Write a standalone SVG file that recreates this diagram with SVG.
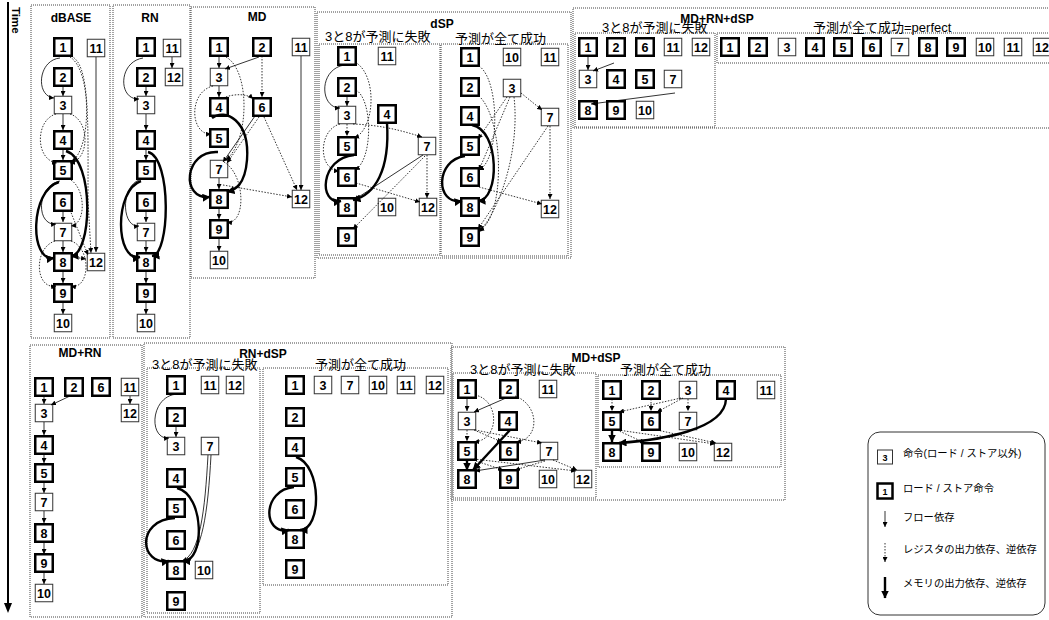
<svg xmlns="http://www.w3.org/2000/svg" width="1049" height="620" viewBox="0 0 1049 620">
<defs>
<style>
.k{fill:#fff;stroke:#000;stroke-width:2.5}
.t{fill:#fff;stroke:#333;stroke-width:1}
.n{font-family:"Liberation Sans",Arial,sans-serif;font-weight:bold;font-size:12.5px;text-anchor:middle;fill:#000}
.pn{fill:none;stroke:#444;stroke-width:1;stroke-dasharray:1 1}
.ti{font-family:"Liberation Sans",Arial,sans-serif;font-weight:bold;font-size:12px;text-anchor:middle;fill:#000}
.jp{font-family:"Liberation Sans","Noto Sans CJK JP",sans-serif;font-size:13px;fill:#000}
.lg{font-family:"Liberation Sans","Noto Sans CJK JP",sans-serif;font-size:10.3px;fill:#000}
.s{fill:none;stroke:#000;stroke-width:0.8;marker-end:url(#ms)}
.d{fill:none;stroke:#000;stroke-width:0.8;stroke-dasharray:1.5 1.5;marker-end:url(#ms)}
.h{fill:none;stroke:#000;stroke-width:2.4;marker-end:url(#mk)}
</style>
<marker id="ms" markerUnits="userSpaceOnUse" markerWidth="5" markerHeight="5" refX="5" refY="2.5" orient="auto" viewBox="0 0 5 5"><path d="M0,0 L5,2.5 L0,5 z" fill="#000"/></marker>
<marker id="mk" markerUnits="userSpaceOnUse" markerWidth="8" markerHeight="8" refX="7.5" refY="4" orient="auto" viewBox="0 0 8 8"><path d="M0,0 L8,4 L0,8 z" fill="#000"/></marker>
</defs>
<rect width="1049" height="620" fill="#fff"/>

<g id="time-axis">
<line x1="8" y1="2" x2="8" y2="604" stroke="#000" stroke-width="2"/>
<path d="M4,603 L12,603 L8,613 z" fill="#000"/>
<text class="ti" style="text-anchor:start;font-size:11.5px" transform="translate(12 7) rotate(90)">Time</text>
</g>

<g id="panels">
<rect class="pn" x="31" y="5" width="79" height="333"/>
<rect class="pn" x="113" y="5" width="77" height="333"/>
<rect class="pn" x="191" y="7" width="124" height="271"/>
<rect class="pn" x="317" y="12" width="254" height="246"/>
<rect class="pn" x="319" y="44" width="121" height="211"/>
<rect class="pn" x="441" y="44" width="127" height="212"/>
<rect class="pn" x="573" y="8" width="480" height="120"/>
<rect class="pn" x="575" y="33" width="140" height="94"/>
<rect class="pn" x="717" y="33" width="340" height="30"/>
<rect class="pn" x="30" y="345" width="112" height="272"/>
<rect class="pn" x="144" y="343" width="308" height="274"/>
<rect class="pn" x="147" y="368" width="113" height="245"/>
<rect class="pn" x="263" y="368" width="185" height="217"/>
<rect class="pn" x="451" y="347" width="334" height="153"/>
<rect class="pn" x="453" y="373" width="143" height="125"/>
<rect class="pn" x="598" y="375" width="183" height="92"/>
<text class="ti" x="71" y="22">dBASE</text>
<text class="ti" x="150" y="22">RN</text>
<text class="ti" x="257" y="21">MD</text>
<text class="ti" x="442" y="28">dSP</text>
<text class="ti" x="717" y="23">MD+RN+dSP</text>
<text class="ti" x="80" y="357">MD+RN</text>
<text class="ti" x="263" y="358">RN+dSP</text>
<text class="ti" x="596" y="362">MD+dSP</text>
<text class="jp" x="325" y="41">3と8が予測に失敗</text>
<text class="jp" x="455" y="43">予測が全て成功</text>
<text class="jp" x="602" y="32">3と8が予測に失敗</text>
<text class="jp" x="813" y="32">予測が全て成功=perfect</text>
<text class="jp" x="152" y="369">3と8が予測に失敗</text>
<text class="jp" x="315" y="369">予測が全て成功</text>
<text class="jp" x="470" y="374">3と8が予測に失敗</text>
<text class="jp" x="620" y="374">予測が全て成功</text>
</g>

<g id="nodes">
<!-- dBASE -->
<g id="dbase-1" transform="translate(63 47)"><rect class="k" x="-8.75" y="-8.75" width="17.5" height="17.5"/><text class="n" y="4.5">1</text></g>
<g id="dbase-2" transform="translate(63 77)"><rect class="k" x="-8.75" y="-8.75" width="17.5" height="17.5"/><text class="n" y="4.5">2</text></g>
<g id="dbase-3" transform="translate(63 105)"><rect class="t" x="-8.75" y="-8.75" width="17.5" height="17.5"/><text class="n" y="4.5">3</text></g>
<g id="dbase-4" transform="translate(63 140)"><rect class="k" x="-8.75" y="-8.75" width="17.5" height="17.5"/><text class="n" y="4.5">4</text></g>
<g id="dbase-5" transform="translate(63 170)"><rect class="k" x="-8.75" y="-8.75" width="17.5" height="17.5"/><text class="n" y="4.5">5</text></g>
<g id="dbase-6" transform="translate(63 202)"><rect class="k" x="-8.75" y="-8.75" width="17.5" height="17.5"/><text class="n" y="4.5">6</text></g>
<g id="dbase-7" transform="translate(63 232)"><rect class="t" x="-8.75" y="-8.75" width="17.5" height="17.5"/><text class="n" y="4.5">7</text></g>
<g id="dbase-8" transform="translate(63 262)"><rect class="k" x="-8.75" y="-8.75" width="17.5" height="17.5"/><text class="n" y="4.5">8</text></g>
<g id="dbase-9" transform="translate(63 293)"><rect class="k" x="-8.75" y="-8.75" width="17.5" height="17.5"/><text class="n" y="4.5">9</text></g>
<g id="dbase-10" transform="translate(63 323)"><rect class="t" x="-8.75" y="-8.75" width="17.5" height="17.5"/><text class="n" y="4.5">10</text></g>
<g id="dbase-11" transform="translate(96 48)"><rect class="t" x="-8.75" y="-8.75" width="17.5" height="17.5"/><text class="n" y="4.5">11</text></g>
<g id="dbase-12" transform="translate(96 262)"><rect class="t" x="-8.75" y="-8.75" width="17.5" height="17.5"/><text class="n" y="4.5">12</text></g>
<!-- RN -->
<g id="rn-1" transform="translate(146 47)"><rect class="k" x="-8.75" y="-8.75" width="17.5" height="17.5"/><text class="n" y="4.5">1</text></g>
<g id="rn-2" transform="translate(146 77)"><rect class="k" x="-8.75" y="-8.75" width="17.5" height="17.5"/><text class="n" y="4.5">2</text></g>
<g id="rn-3" transform="translate(146 105)"><rect class="t" x="-8.75" y="-8.75" width="17.5" height="17.5"/><text class="n" y="4.5">3</text></g>
<g id="rn-4" transform="translate(146 140)"><rect class="k" x="-8.75" y="-8.75" width="17.5" height="17.5"/><text class="n" y="4.5">4</text></g>
<g id="rn-5" transform="translate(146 170)"><rect class="k" x="-8.75" y="-8.75" width="17.5" height="17.5"/><text class="n" y="4.5">5</text></g>
<g id="rn-6" transform="translate(146 202)"><rect class="k" x="-8.75" y="-8.75" width="17.5" height="17.5"/><text class="n" y="4.5">6</text></g>
<g id="rn-7" transform="translate(146 232)"><rect class="t" x="-8.75" y="-8.75" width="17.5" height="17.5"/><text class="n" y="4.5">7</text></g>
<g id="rn-8" transform="translate(146 262)"><rect class="k" x="-8.75" y="-8.75" width="17.5" height="17.5"/><text class="n" y="4.5">8</text></g>
<g id="rn-9" transform="translate(146 293)"><rect class="k" x="-8.75" y="-8.75" width="17.5" height="17.5"/><text class="n" y="4.5">9</text></g>
<g id="rn-10" transform="translate(146 323)"><rect class="t" x="-8.75" y="-8.75" width="17.5" height="17.5"/><text class="n" y="4.5">10</text></g>
<g id="rn-11" transform="translate(172 48)"><rect class="t" x="-8.75" y="-8.75" width="17.5" height="17.5"/><text class="n" y="4.5">11</text></g>
<g id="rn-12" transform="translate(174 77)"><rect class="t" x="-8.75" y="-8.75" width="17.5" height="17.5"/><text class="n" y="4.5">12</text></g>
<!-- MD -->
<g id="md-1" transform="translate(219 47)"><rect class="k" x="-8.75" y="-8.75" width="17.5" height="17.5"/><text class="n" y="4.5">1</text></g>
<g id="md-2" transform="translate(262 47)"><rect class="k" x="-8.75" y="-8.75" width="17.5" height="17.5"/><text class="n" y="4.5">2</text></g>
<g id="md-11" transform="translate(301 47)"><rect class="t" x="-8.75" y="-8.75" width="17.5" height="17.5"/><text class="n" y="4.5">11</text></g>
<g id="md-3" transform="translate(219 77)"><rect class="t" x="-8.75" y="-8.75" width="17.5" height="17.5"/><text class="n" y="4.5">3</text></g>
<g id="md-4" transform="translate(219 107)"><rect class="k" x="-8.75" y="-8.75" width="17.5" height="17.5"/><text class="n" y="4.5">4</text></g>
<g id="md-6" transform="translate(262 107)"><rect class="k" x="-8.75" y="-8.75" width="17.5" height="17.5"/><text class="n" y="4.5">6</text></g>
<g id="md-5" transform="translate(219 138)"><rect class="k" x="-8.75" y="-8.75" width="17.5" height="17.5"/><text class="n" y="4.5">5</text></g>
<g id="md-7" transform="translate(219 169)"><rect class="t" x="-8.75" y="-8.75" width="17.5" height="17.5"/><text class="n" y="4.5">7</text></g>
<g id="md-8" transform="translate(219 199)"><rect class="k" x="-8.75" y="-8.75" width="17.5" height="17.5"/><text class="n" y="4.5">8</text></g>
<g id="md-12" transform="translate(301 199)"><rect class="t" x="-8.75" y="-8.75" width="17.5" height="17.5"/><text class="n" y="4.5">12</text></g>
<g id="md-9" transform="translate(219 229)"><rect class="k" x="-8.75" y="-8.75" width="17.5" height="17.5"/><text class="n" y="4.5">9</text></g>
<g id="md-10" transform="translate(219 260)"><rect class="t" x="-8.75" y="-8.75" width="17.5" height="17.5"/><text class="n" y="4.5">10</text></g>
<!-- dSP fail -->
<g id="dspF-1" transform="translate(347 56)"><rect class="k" x="-8.75" y="-8.75" width="17.5" height="17.5"/><text class="n" y="4.5">1</text></g>
<g id="dspF-11" transform="translate(387 56)"><rect class="t" x="-8.75" y="-8.75" width="17.5" height="17.5"/><text class="n" y="4.5">11</text></g>
<g id="dspF-2" transform="translate(347 87)"><rect class="k" x="-8.75" y="-8.75" width="17.5" height="17.5"/><text class="n" y="4.5">2</text></g>
<g id="dspF-3" transform="translate(347 115)"><rect class="t" x="-8.75" y="-8.75" width="17.5" height="17.5"/><text class="n" y="4.5">3</text></g>
<g id="dspF-4" transform="translate(387 114)"><rect class="k" x="-8.75" y="-8.75" width="17.5" height="17.5"/><text class="n" y="4.5">4</text></g>
<g id="dspF-5" transform="translate(347 146)"><rect class="k" x="-8.75" y="-8.75" width="17.5" height="17.5"/><text class="n" y="4.5">5</text></g>
<g id="dspF-7" transform="translate(427 146)"><rect class="t" x="-8.75" y="-8.75" width="17.5" height="17.5"/><text class="n" y="4.5">7</text></g>
<g id="dspF-6" transform="translate(347 177)"><rect class="k" x="-8.75" y="-8.75" width="17.5" height="17.5"/><text class="n" y="4.5">6</text></g>
<g id="dspF-8" transform="translate(347 207)"><rect class="k" x="-8.75" y="-8.75" width="17.5" height="17.5"/><text class="n" y="4.5">8</text></g>
<g id="dspF-10" transform="translate(387 207)"><rect class="t" x="-8.75" y="-8.75" width="17.5" height="17.5"/><text class="n" y="4.5">10</text></g>
<g id="dspF-12" transform="translate(428 207)"><rect class="t" x="-8.75" y="-8.75" width="17.5" height="17.5"/><text class="n" y="4.5">12</text></g>
<g id="dspF-9" transform="translate(347 237)"><rect class="k" x="-8.75" y="-8.75" width="17.5" height="17.5"/><text class="n" y="4.5">9</text></g>
<!-- dSP success -->
<g id="dspS-1" transform="translate(470 57)"><rect class="k" x="-8.75" y="-8.75" width="17.5" height="17.5"/><text class="n" y="4.5">1</text></g>
<g id="dspS-10" transform="translate(512 57)"><rect class="t" x="-8.75" y="-8.75" width="17.5" height="17.5"/><text class="n" y="4.5">10</text></g>
<g id="dspS-11" transform="translate(550 57)"><rect class="t" x="-8.75" y="-8.75" width="17.5" height="17.5"/><text class="n" y="4.5">11</text></g>
<g id="dspS-2" transform="translate(470 87)"><rect class="k" x="-8.75" y="-8.75" width="17.5" height="17.5"/><text class="n" y="4.5">2</text></g>
<g id="dspS-3" transform="translate(512 88)"><rect class="t" x="-8.75" y="-8.75" width="17.5" height="17.5"/><text class="n" y="4.5">3</text></g>
<g id="dspS-4" transform="translate(470 116)"><rect class="k" x="-8.75" y="-8.75" width="17.5" height="17.5"/><text class="n" y="4.5">4</text></g>
<g id="dspS-7" transform="translate(550 117)"><rect class="t" x="-8.75" y="-8.75" width="17.5" height="17.5"/><text class="n" y="4.5">7</text></g>
<g id="dspS-5" transform="translate(470 146)"><rect class="k" x="-8.75" y="-8.75" width="17.5" height="17.5"/><text class="n" y="4.5">5</text></g>
<g id="dspS-6" transform="translate(470 177)"><rect class="k" x="-8.75" y="-8.75" width="17.5" height="17.5"/><text class="n" y="4.5">6</text></g>
<g id="dspS-8" transform="translate(470 207)"><rect class="k" x="-8.75" y="-8.75" width="17.5" height="17.5"/><text class="n" y="4.5">8</text></g>
<g id="dspS-12" transform="translate(550 209)"><rect class="t" x="-8.75" y="-8.75" width="17.5" height="17.5"/><text class="n" y="4.5">12</text></g>
<g id="dspS-9" transform="translate(470 237)"><rect class="k" x="-8.75" y="-8.75" width="17.5" height="17.5"/><text class="n" y="4.5">9</text></g>
<!-- MD+RN+dSP fail -->
<g id="mrdF-1" transform="translate(588 47)"><rect class="k" x="-8.75" y="-8.75" width="17.5" height="17.5"/><text class="n" y="4.5">1</text></g>
<g id="mrdF-2" transform="translate(616 47)"><rect class="k" x="-8.75" y="-8.75" width="17.5" height="17.5"/><text class="n" y="4.5">2</text></g>
<g id="mrdF-6" transform="translate(645 47)"><rect class="k" x="-8.75" y="-8.75" width="17.5" height="17.5"/><text class="n" y="4.5">6</text></g>
<g id="mrdF-11" transform="translate(673 47)"><rect class="t" x="-8.75" y="-8.75" width="17.5" height="17.5"/><text class="n" y="4.5">11</text></g>
<g id="mrdF-12" transform="translate(701 47)"><rect class="t" x="-8.75" y="-8.75" width="17.5" height="17.5"/><text class="n" y="4.5">12</text></g>
<g id="mrdF-3" transform="translate(588 79)"><rect class="t" x="-8.75" y="-8.75" width="17.5" height="17.5"/><text class="n" y="4.5">3</text></g>
<g id="mrdF-4" transform="translate(616 79)"><rect class="k" x="-8.75" y="-8.75" width="17.5" height="17.5"/><text class="n" y="4.5">4</text></g>
<g id="mrdF-5" transform="translate(645 79)"><rect class="k" x="-8.75" y="-8.75" width="17.5" height="17.5"/><text class="n" y="4.5">5</text></g>
<g id="mrdF-7" transform="translate(673 79)"><rect class="t" x="-8.75" y="-8.75" width="17.5" height="17.5"/><text class="n" y="4.5">7</text></g>
<g id="mrdF-8" transform="translate(588 110)"><rect class="k" x="-8.75" y="-8.75" width="17.5" height="17.5"/><text class="n" y="4.5">8</text></g>
<g id="mrdF-9" transform="translate(616 110)"><rect class="k" x="-8.75" y="-8.75" width="17.5" height="17.5"/><text class="n" y="4.5">9</text></g>
<g id="mrdF-10" transform="translate(645 110)"><rect class="t" x="-8.75" y="-8.75" width="17.5" height="17.5"/><text class="n" y="4.5">10</text></g>
<!-- MD+RN+dSP perfect -->
<g id="mrdS-1" transform="translate(730 47)"><rect class="k" x="-8.75" y="-8.75" width="17.5" height="17.5"/><text class="n" y="4.5">1</text></g>
<g id="mrdS-2" transform="translate(758 47)"><rect class="k" x="-8.75" y="-8.75" width="17.5" height="17.5"/><text class="n" y="4.5">2</text></g>
<g id="mrdS-3" transform="translate(787 47)"><rect class="t" x="-8.75" y="-8.75" width="17.5" height="17.5"/><text class="n" y="4.5">3</text></g>
<g id="mrdS-4" transform="translate(815 47)"><rect class="k" x="-8.75" y="-8.75" width="17.5" height="17.5"/><text class="n" y="4.5">4</text></g>
<g id="mrdS-5" transform="translate(843 47)"><rect class="k" x="-8.75" y="-8.75" width="17.5" height="17.5"/><text class="n" y="4.5">5</text></g>
<g id="mrdS-6" transform="translate(872 47)"><rect class="k" x="-8.75" y="-8.75" width="17.5" height="17.5"/><text class="n" y="4.5">6</text></g>
<g id="mrdS-7" transform="translate(900 47)"><rect class="t" x="-8.75" y="-8.75" width="17.5" height="17.5"/><text class="n" y="4.5">7</text></g>
<g id="mrdS-8" transform="translate(928 47)"><rect class="k" x="-8.75" y="-8.75" width="17.5" height="17.5"/><text class="n" y="4.5">8</text></g>
<g id="mrdS-9" transform="translate(956 47)"><rect class="k" x="-8.75" y="-8.75" width="17.5" height="17.5"/><text class="n" y="4.5">9</text></g>
<g id="mrdS-10" transform="translate(985 47)"><rect class="t" x="-8.75" y="-8.75" width="17.5" height="17.5"/><text class="n" y="4.5">10</text></g>
<g id="mrdS-11" transform="translate(1013 47)"><rect class="t" x="-8.75" y="-8.75" width="17.5" height="17.5"/><text class="n" y="4.5">11</text></g>
<g id="mrdS-12" transform="translate(1042 47)"><rect class="t" x="-8.75" y="-8.75" width="17.5" height="17.5"/><text class="n" y="4.5">12</text></g>
<!-- MD+RN -->
<g id="mdrn-1" transform="translate(44 387)"><rect class="k" x="-8.75" y="-8.75" width="17.5" height="17.5"/><text class="n" y="4.5">1</text></g>
<g id="mdrn-2" transform="translate(74 387)"><rect class="k" x="-8.75" y="-8.75" width="17.5" height="17.5"/><text class="n" y="4.5">2</text></g>
<g id="mdrn-6" transform="translate(101 387)"><rect class="k" x="-8.75" y="-8.75" width="17.5" height="17.5"/><text class="n" y="4.5">6</text></g>
<g id="mdrn-11" transform="translate(130 387)"><rect class="t" x="-8.75" y="-8.75" width="17.5" height="17.5"/><text class="n" y="4.5">11</text></g>
<g id="mdrn-3" transform="translate(44 413)"><rect class="t" x="-8.75" y="-8.75" width="17.5" height="17.5"/><text class="n" y="4.5">3</text></g>
<g id="mdrn-12" transform="translate(130 413)"><rect class="t" x="-8.75" y="-8.75" width="17.5" height="17.5"/><text class="n" y="4.5">12</text></g>
<g id="mdrn-4" transform="translate(44 445)"><rect class="k" x="-8.75" y="-8.75" width="17.5" height="17.5"/><text class="n" y="4.5">4</text></g>
<g id="mdrn-5" transform="translate(44 473)"><rect class="k" x="-8.75" y="-8.75" width="17.5" height="17.5"/><text class="n" y="4.5">5</text></g>
<g id="mdrn-7" transform="translate(44 502)"><rect class="t" x="-8.75" y="-8.75" width="17.5" height="17.5"/><text class="n" y="4.5">7</text></g>
<g id="mdrn-8" transform="translate(44 533)"><rect class="k" x="-8.75" y="-8.75" width="17.5" height="17.5"/><text class="n" y="4.5">8</text></g>
<g id="mdrn-9" transform="translate(44 563)"><rect class="k" x="-8.75" y="-8.75" width="17.5" height="17.5"/><text class="n" y="4.5">9</text></g>
<g id="mdrn-10" transform="translate(44 593)"><rect class="t" x="-8.75" y="-8.75" width="17.5" height="17.5"/><text class="n" y="4.5">10</text></g>
<!-- RN+dSP fail -->
<g id="rndF-1" transform="translate(176 385)"><rect class="k" x="-8.75" y="-8.75" width="17.5" height="17.5"/><text class="n" y="4.5">1</text></g>
<g id="rndF-11" transform="translate(210 385)"><rect class="t" x="-8.75" y="-8.75" width="17.5" height="17.5"/><text class="n" y="4.5">11</text></g>
<g id="rndF-12" transform="translate(235 385)"><rect class="t" x="-8.75" y="-8.75" width="17.5" height="17.5"/><text class="n" y="4.5">12</text></g>
<g id="rndF-2" transform="translate(176 417)"><rect class="k" x="-8.75" y="-8.75" width="17.5" height="17.5"/><text class="n" y="4.5">2</text></g>
<g id="rndF-3" transform="translate(176 446)"><rect class="t" x="-8.75" y="-8.75" width="17.5" height="17.5"/><text class="n" y="4.5">3</text></g>
<g id="rndF-7" transform="translate(210 446)"><rect class="t" x="-8.75" y="-8.75" width="17.5" height="17.5"/><text class="n" y="4.5">7</text></g>
<g id="rndF-4" transform="translate(176 478)"><rect class="k" x="-8.75" y="-8.75" width="17.5" height="17.5"/><text class="n" y="4.5">4</text></g>
<g id="rndF-5" transform="translate(176 508)"><rect class="k" x="-8.75" y="-8.75" width="17.5" height="17.5"/><text class="n" y="4.5">5</text></g>
<g id="rndF-6" transform="translate(176 540)"><rect class="k" x="-8.75" y="-8.75" width="17.5" height="17.5"/><text class="n" y="4.5">6</text></g>
<g id="rndF-8" transform="translate(176 570)"><rect class="k" x="-8.75" y="-8.75" width="17.5" height="17.5"/><text class="n" y="4.5">8</text></g>
<g id="rndF-10" transform="translate(204 570)"><rect class="t" x="-8.75" y="-8.75" width="17.5" height="17.5"/><text class="n" y="4.5">10</text></g>
<g id="rndF-9" transform="translate(176 601)"><rect class="k" x="-8.75" y="-8.75" width="17.5" height="17.5"/><text class="n" y="4.5">9</text></g>
<!-- RN+dSP success -->
<g id="rndS-1" transform="translate(295 385)"><rect class="k" x="-8.75" y="-8.75" width="17.5" height="17.5"/><text class="n" y="4.5">1</text></g>
<g id="rndS-3" transform="translate(323 385)"><rect class="t" x="-8.75" y="-8.75" width="17.5" height="17.5"/><text class="n" y="4.5">3</text></g>
<g id="rndS-7" transform="translate(350 385)"><rect class="t" x="-8.75" y="-8.75" width="17.5" height="17.5"/><text class="n" y="4.5">7</text></g>
<g id="rndS-10" transform="translate(378 385)"><rect class="t" x="-8.75" y="-8.75" width="17.5" height="17.5"/><text class="n" y="4.5">10</text></g>
<g id="rndS-11" transform="translate(406 385)"><rect class="t" x="-8.75" y="-8.75" width="17.5" height="17.5"/><text class="n" y="4.5">11</text></g>
<g id="rndS-12" transform="translate(435 385)"><rect class="t" x="-8.75" y="-8.75" width="17.5" height="17.5"/><text class="n" y="4.5">12</text></g>
<g id="rndS-2" transform="translate(295 417)"><rect class="k" x="-8.75" y="-8.75" width="17.5" height="17.5"/><text class="n" y="4.5">2</text></g>
<g id="rndS-4" transform="translate(295 447)"><rect class="k" x="-8.75" y="-8.75" width="17.5" height="17.5"/><text class="n" y="4.5">4</text></g>
<g id="rndS-5" transform="translate(295 477)"><rect class="k" x="-8.75" y="-8.75" width="17.5" height="17.5"/><text class="n" y="4.5">5</text></g>
<g id="rndS-6" transform="translate(295 509)"><rect class="k" x="-8.75" y="-8.75" width="17.5" height="17.5"/><text class="n" y="4.5">6</text></g>
<g id="rndS-8" transform="translate(295 539)"><rect class="k" x="-8.75" y="-8.75" width="17.5" height="17.5"/><text class="n" y="4.5">8</text></g>
<g id="rndS-9" transform="translate(295 569)"><rect class="k" x="-8.75" y="-8.75" width="17.5" height="17.5"/><text class="n" y="4.5">9</text></g>
<!-- MD+dSP fail -->
<g id="mddF-1" transform="translate(467 389)"><rect class="k" x="-8.75" y="-8.75" width="17.5" height="17.5"/><text class="n" y="4.5">1</text></g>
<g id="mddF-2" transform="translate(509 389)"><rect class="k" x="-8.75" y="-8.75" width="17.5" height="17.5"/><text class="n" y="4.5">2</text></g>
<g id="mddF-11" transform="translate(548 389)"><rect class="t" x="-8.75" y="-8.75" width="17.5" height="17.5"/><text class="n" y="4.5">11</text></g>
<g id="mddF-3" transform="translate(467 421)"><rect class="t" x="-8.75" y="-8.75" width="17.5" height="17.5"/><text class="n" y="4.5">3</text></g>
<g id="mddF-4" transform="translate(508 421)"><rect class="k" x="-8.75" y="-8.75" width="17.5" height="17.5"/><text class="n" y="4.5">4</text></g>
<g id="mddF-5" transform="translate(467 451)"><rect class="k" x="-8.75" y="-8.75" width="17.5" height="17.5"/><text class="n" y="4.5">5</text></g>
<g id="mddF-6" transform="translate(509 451)"><rect class="k" x="-8.75" y="-8.75" width="17.5" height="17.5"/><text class="n" y="4.5">6</text></g>
<g id="mddF-7" transform="translate(549 451)"><rect class="t" x="-8.75" y="-8.75" width="17.5" height="17.5"/><text class="n" y="4.5">7</text></g>
<g id="mddF-8" transform="translate(467 479)"><rect class="k" x="-8.75" y="-8.75" width="17.5" height="17.5"/><text class="n" y="4.5">8</text></g>
<g id="mddF-9" transform="translate(509 479)"><rect class="k" x="-8.75" y="-8.75" width="17.5" height="17.5"/><text class="n" y="4.5">9</text></g>
<g id="mddF-10" transform="translate(548 479)"><rect class="t" x="-8.75" y="-8.75" width="17.5" height="17.5"/><text class="n" y="4.5">10</text></g>
<g id="mddF-12" transform="translate(583 479)"><rect class="t" x="-8.75" y="-8.75" width="17.5" height="17.5"/><text class="n" y="4.5">12</text></g>
<!-- MD+dSP success -->
<g id="mddS-1" transform="translate(612 390)"><rect class="k" x="-8.75" y="-8.75" width="17.5" height="17.5"/><text class="n" y="4.5">1</text></g>
<g id="mddS-2" transform="translate(651 390)"><rect class="k" x="-8.75" y="-8.75" width="17.5" height="17.5"/><text class="n" y="4.5">2</text></g>
<g id="mddS-3" transform="translate(688 390)"><rect class="t" x="-8.75" y="-8.75" width="17.5" height="17.5"/><text class="n" y="4.5">3</text></g>
<g id="mddS-4" transform="translate(726 390)"><rect class="k" x="-8.75" y="-8.75" width="17.5" height="17.5"/><text class="n" y="4.5">4</text></g>
<g id="mddS-11" transform="translate(766 390)"><rect class="t" x="-8.75" y="-8.75" width="17.5" height="17.5"/><text class="n" y="4.5">11</text></g>
<g id="mddS-5" transform="translate(612 421)"><rect class="k" x="-8.75" y="-8.75" width="17.5" height="17.5"/><text class="n" y="4.5">5</text></g>
<g id="mddS-6" transform="translate(651 421)"><rect class="k" x="-8.75" y="-8.75" width="17.5" height="17.5"/><text class="n" y="4.5">6</text></g>
<g id="mddS-7" transform="translate(688 421)"><rect class="t" x="-8.75" y="-8.75" width="17.5" height="17.5"/><text class="n" y="4.5">7</text></g>
<g id="mddS-8" transform="translate(612 452)"><rect class="k" x="-8.75" y="-8.75" width="17.5" height="17.5"/><text class="n" y="4.5">8</text></g>
<g id="mddS-9" transform="translate(651 452)"><rect class="k" x="-8.75" y="-8.75" width="17.5" height="17.5"/><text class="n" y="4.5">9</text></g>
<g id="mddS-10" transform="translate(688 452)"><rect class="t" x="-8.75" y="-8.75" width="17.5" height="17.5"/><text class="n" y="4.5">10</text></g>
<g id="mddS-12" transform="translate(723 452)"><rect class="t" x="-8.75" y="-8.75" width="17.5" height="17.5"/><text class="n" y="4.5">12</text></g>
</g>

<g id="connectors">
<!-- dBASE -->
<path class="s" d="M63,87 V96"/>
<path class="s" d="M63,114 V130"/>
<path class="s" d="M63,150 V160"/>
<path class="s" d="M63,212 V222"/>
<path class="s" d="M63,241 V252"/>
<path class="s" d="M63,272 V283"/>
<path class="s" d="M63,303 V314"/>
<path class="s" d="M60,58 C38,60 35,96 54,98"/>
<path class="s" d="M96,57 V252"/>
<path class="s" d="M60,181 C36,186 36,226 56,224"/>
<path class="h" d="M59,182 C30,190 29,262 54,258"/>
<path class="h" d="M66,151 C95,160 92,255 71,256"/>
<path class="d" d="M70,57 C92,70 92,150 71,162"/>
<path class="d" d="M71,56 C90,64 88,120 88,200 L91,253"/>
<path class="d" d="M56,114 C35,120 35,160 57,163"/>
<path class="d" d="M70,114 C90,120 90,160 70,163"/>
<path class="d" d="M71,180 C86,190 86,224 71,226"/>
<path class="d" d="M70,210 L88,255"/>
<path class="d" d="M73,257 L86,259"/>
<path class="d" d="M55,241 C33,248 35,290 56,286"/>
<path class="d" d="M71,241 C92,248 90,290 71,286"/>
<!-- RN -->
<path class="s" d="M143,58 C118,62 118,100 139,99"/>
<path class="s" d="M172,57 V68"/>
<path class="s" d="M146,87 V96"/>
<path class="s" d="M146,114 V130"/>
<path class="s" d="M146,150 V160"/>
<path class="s" d="M146,212 V222"/>
<path class="s" d="M146,241 V252"/>
<path class="s" d="M146,272 V283"/>
<path class="s" d="M146,303 V314"/>
<path class="h" d="M148,152 C172,158 170,255 152,256"/>
<path class="h" d="M141,181 C114,190 115,262 140,257"/>
<path class="s" d="M139,180 C120,188 122,228 139,226"/>
<!-- MD -->
<path class="s" d="M219,56 V68"/>
<path class="s" d="M259,57 L225,69"/>
<path class="d" d="M262,56 V97"/>
<path class="s" d="M219,86 V97"/>
<path class="d" d="M226,57 C250,70 250,140 226,160"/>
<path class="d" d="M213,86 C188,92 190,135 211,134"/>
<path class="d" d="M223,98 C235,93 248,94 253,99"/>
<path class="h" d="M212,118 C225,108 250,120 247,160 C245,185 235,190 227,192"/>
<path class="h" d="M218,152 C184,150 180,200 210,197"/>
<path class="s" d="M255,116 L223,162"/>
<path class="d" d="M259,117 L227,163"/>
<path class="d" d="M264,117 L297,190"/>
<path class="s" d="M301,56 V190"/>
<path class="d" d="M223,185 L292,197"/>
<path class="s" d="M219,178 V189"/>
<path class="d" d="M224,162 C246,175 246,225 227,222"/>
<path class="s" d="M219,208 V219"/>
<path class="s" d="M219,238 V251"/>
<!-- dSP fail -->
<path class="s" d="M344,65 C318,70 320,108 340,108"/>
<path class="s" d="M347,96 V106"/>
<path class="d" d="M355,62 C378,75 375,130 354,138"/>
<path class="d" d="M356,90 C373,100 373,160 355,170"/>
<path class="d" d="M347,124 V136"/>
<path class="d" d="M353,124 C380,125 400,130 422,137"/>
<path class="d" d="M340,124 C318,130 318,170 339,171"/>
<path class="h" d="M387,123 C390,170 375,195 353,200"/>
<path class="h" d="M354,155 C320,158 318,205 341,201"/>
<path class="s" d="M423,155 L354,200"/>
<path class="d" d="M425,156 L353,229"/>
<path class="d" d="M427,155 V198"/>
<path class="d" d="M356,183 L420,202"/>
<!-- dSP success -->
<path class="d" d="M479,66 C500,80 500,160 479,170"/>
<path class="d" d="M479,96 C505,120 505,220 479,230"/>
<path class="d" d="M507,97 L478,139"/>
<path class="d" d="M510,97 L479,170"/>
<path class="d" d="M521,93 L542,110"/>
<path class="d" d="M514,97 C520,150 500,210 479,232"/>
<path class="h" d="M472,125 C500,130 500,200 478,201"/>
<path class="h" d="M465,156 C435,160 435,205 462,201"/>
<path class="d" d="M548,126 L478,229"/>
<path class="d" d="M550,126 V199"/>
<path class="d" d="M479,187 L542,204"/>
<!-- MD+RN+dSP fail -->
<path class="s" d="M588,56 V70"/>
<path class="s" d="M614,63 L593,71"/>
<path class="s" d="M675,93 L591,104"/>
<!-- MD+RN -->
<path class="s" d="M44,396 V404"/>
<path class="s" d="M70,396 L51,405"/>
<path class="s" d="M130,396 V404"/>
<path class="s" d="M44,422 V435"/>
<path class="s" d="M44,455 V463"/>
<path class="s" d="M44,483 V493"/>
<path class="s" d="M44,511 V523"/>
<path class="s" d="M44,543 V554"/>
<path class="s" d="M44,573 V584"/>
<!-- RN+dSP fail -->
<path class="s" d="M178,394 C150,395 148,440 169,438"/>
<path class="s" d="M176,426 V437"/>
<path class="h" d="M177,488 C205,495 205,562 183,561"/>
<path class="h" d="M175,518 C135,520 140,566 169,561"/>
<path class="s" d="M208,455 C205,510 200,555 182,561"/>
<path class="s" d="M211,455 C208,512 202,556 184,562"/>
<!-- RN+dSP success -->
<path class="h" d="M296,457 C322,465 322,530 300,530"/>
<path class="h" d="M294,487 C262,490 262,535 289,530"/>
<!-- MD+dSP fail -->
<path class="s" d="M467,398 V411"/>
<path class="s" d="M506,398 L474,412"/>
<path class="d" d="M475,395 C500,400 500,440 474,442"/>
<path class="d" d="M515,396 C540,405 540,440 516,442"/>
<path class="d" d="M467,430 V441"/>
<path class="d" d="M474,430 L502,442"/>
<path class="d" d="M475,430 L542,443"/>
<path class="h" d="M510,430 L473,470"/>
<path class="h" d="M467,460 V470"/>
<path class="s" d="M545,460 L475,471"/>
<path class="d" d="M473,460 L503,470"/>
<path class="d" d="M545,461 L515,470"/>
<path class="d" d="M553,460 L577,470"/>
<path class="d" d="M474,459 L576,471"/>
<!-- MD+dSP success -->
<path class="d" d="M612,399 V411"/>
<path class="d" d="M651,399 V411"/>
<path class="d" d="M688,399 V411"/>
<path class="d" d="M681,398 L619,412"/>
<path class="d" d="M683,398 L657,412"/>
<path class="h" d="M612,430 V442"/>
<path class="h" d="M726,399 C725,430 660,440 619,443"/>
<path class="d" d="M617,430 L645,443"/>
<path class="d" d="M657,430 L716,443"/>
<path class="d" d="M618,430 L715,444"/>
</g>

<g id="legend">
<rect x="868" y="432" width="177" height="183" rx="12" fill="none" stroke="#333" stroke-width="1"/>
<g id="legend-plain" transform="translate(885 457)"><rect class="t" x="-7.5" y="-7" width="15" height="14"/><text class="n" style="font-size:9px" y="3.5">3</text></g>
<text class="lg" x="903" y="457">命令(ロード / ストア以外)</text>
<g id="legend-ldst" transform="translate(885 491)"><rect class="k" x="-7.5" y="-7.5" width="15" height="15"/><text class="n" style="font-size:9px" y="3.5">1</text></g>
<text class="lg" x="903" y="492">ロード / ストア命令</text>
<path class="s" d="M885,511 V527"/>
<text class="lg" x="903" y="521">フロー依存</text>
<path class="d" d="M885,543 V562"/>
<text class="lg" x="903" y="553">レジスタの出力依存、逆依存</text>
<path class="h" d="M885,577 V598"/>
<text class="lg" x="903" y="587">メモリの出力依存、逆依存</text>
</g>
</svg>
